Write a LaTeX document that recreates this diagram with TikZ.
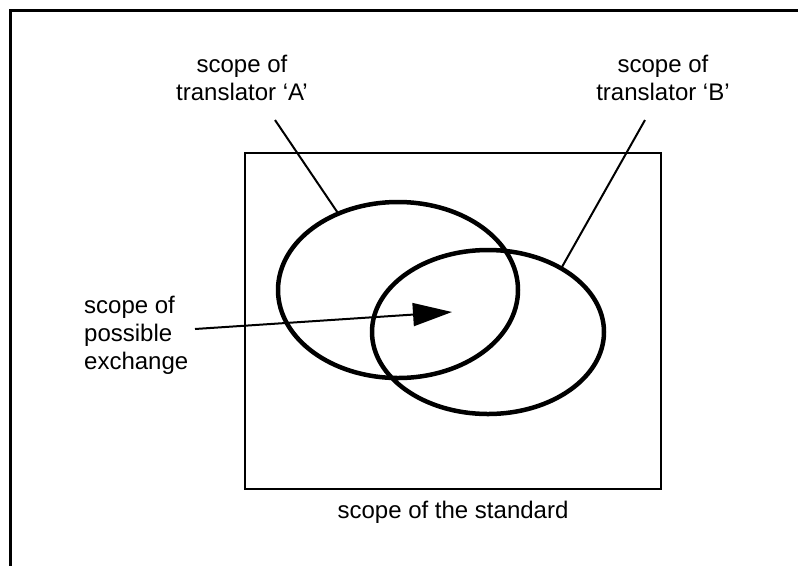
\documentclass[tikz,border=0pt]{standalone}
\usepackage{fontspec}
\setmainfont{Liberation Sans}
\usetikzlibrary{positioning,shapes.geometric,arrows.meta}

\begin{document}
\begin{tikzpicture}[x=1pt, y=-1pt, font=\fontsize{24}{28}\selectfont,
    venn/.style={draw, ellipse, line width=4.5pt, inner sep=0pt, outer sep=0pt},
    caption/.style={align=center, inner sep=0pt},
    leader/.style={line width=2pt}]
    \useasboundingbox (0,0) rectangle (798,566);
    \draw[line width=3pt] (798,10) -- (10,10) -- (10,566);

    \node[draw, line width=2pt, minimum width=416, minimum height=336] (std) at (453,321) {};
    \node[below=11pt of std, inner sep=0pt] (stdlab) {scope of the standard};

    \node[venn, minimum width=240, minimum height=176] (scopeA) at (398,290) {};
    \node[venn, minimum width=232, minimum height=164] (scopeB) at (488,332) {};

    \node[caption, anchor=south] (labA) at (242,101) {scope of\\translator ‘A’};
    \node[caption, anchor=south] (labB) at (663,101) {scope of\\translator ‘B’};
    \node[caption, align=left, anchor=north west] (labX) at (84,296) {scope of\\possible\\exchange};

    \coordinate (tailA) at (275,120);
    \coordinate (tailB) at (645,120);
    \coordinate (tailX) at (195,329);
    \coordinate (tip) at (452,312);

    \draw[leader] (tailA) -- (scopeA.128.5);
    \draw[leader] (tailB) -- (scopeB.41.8);
    \draw[leader, -{Triangle[length=39pt, width=23pt]}] (tailX) -- (tip);
\end{tikzpicture}
\end{document}
